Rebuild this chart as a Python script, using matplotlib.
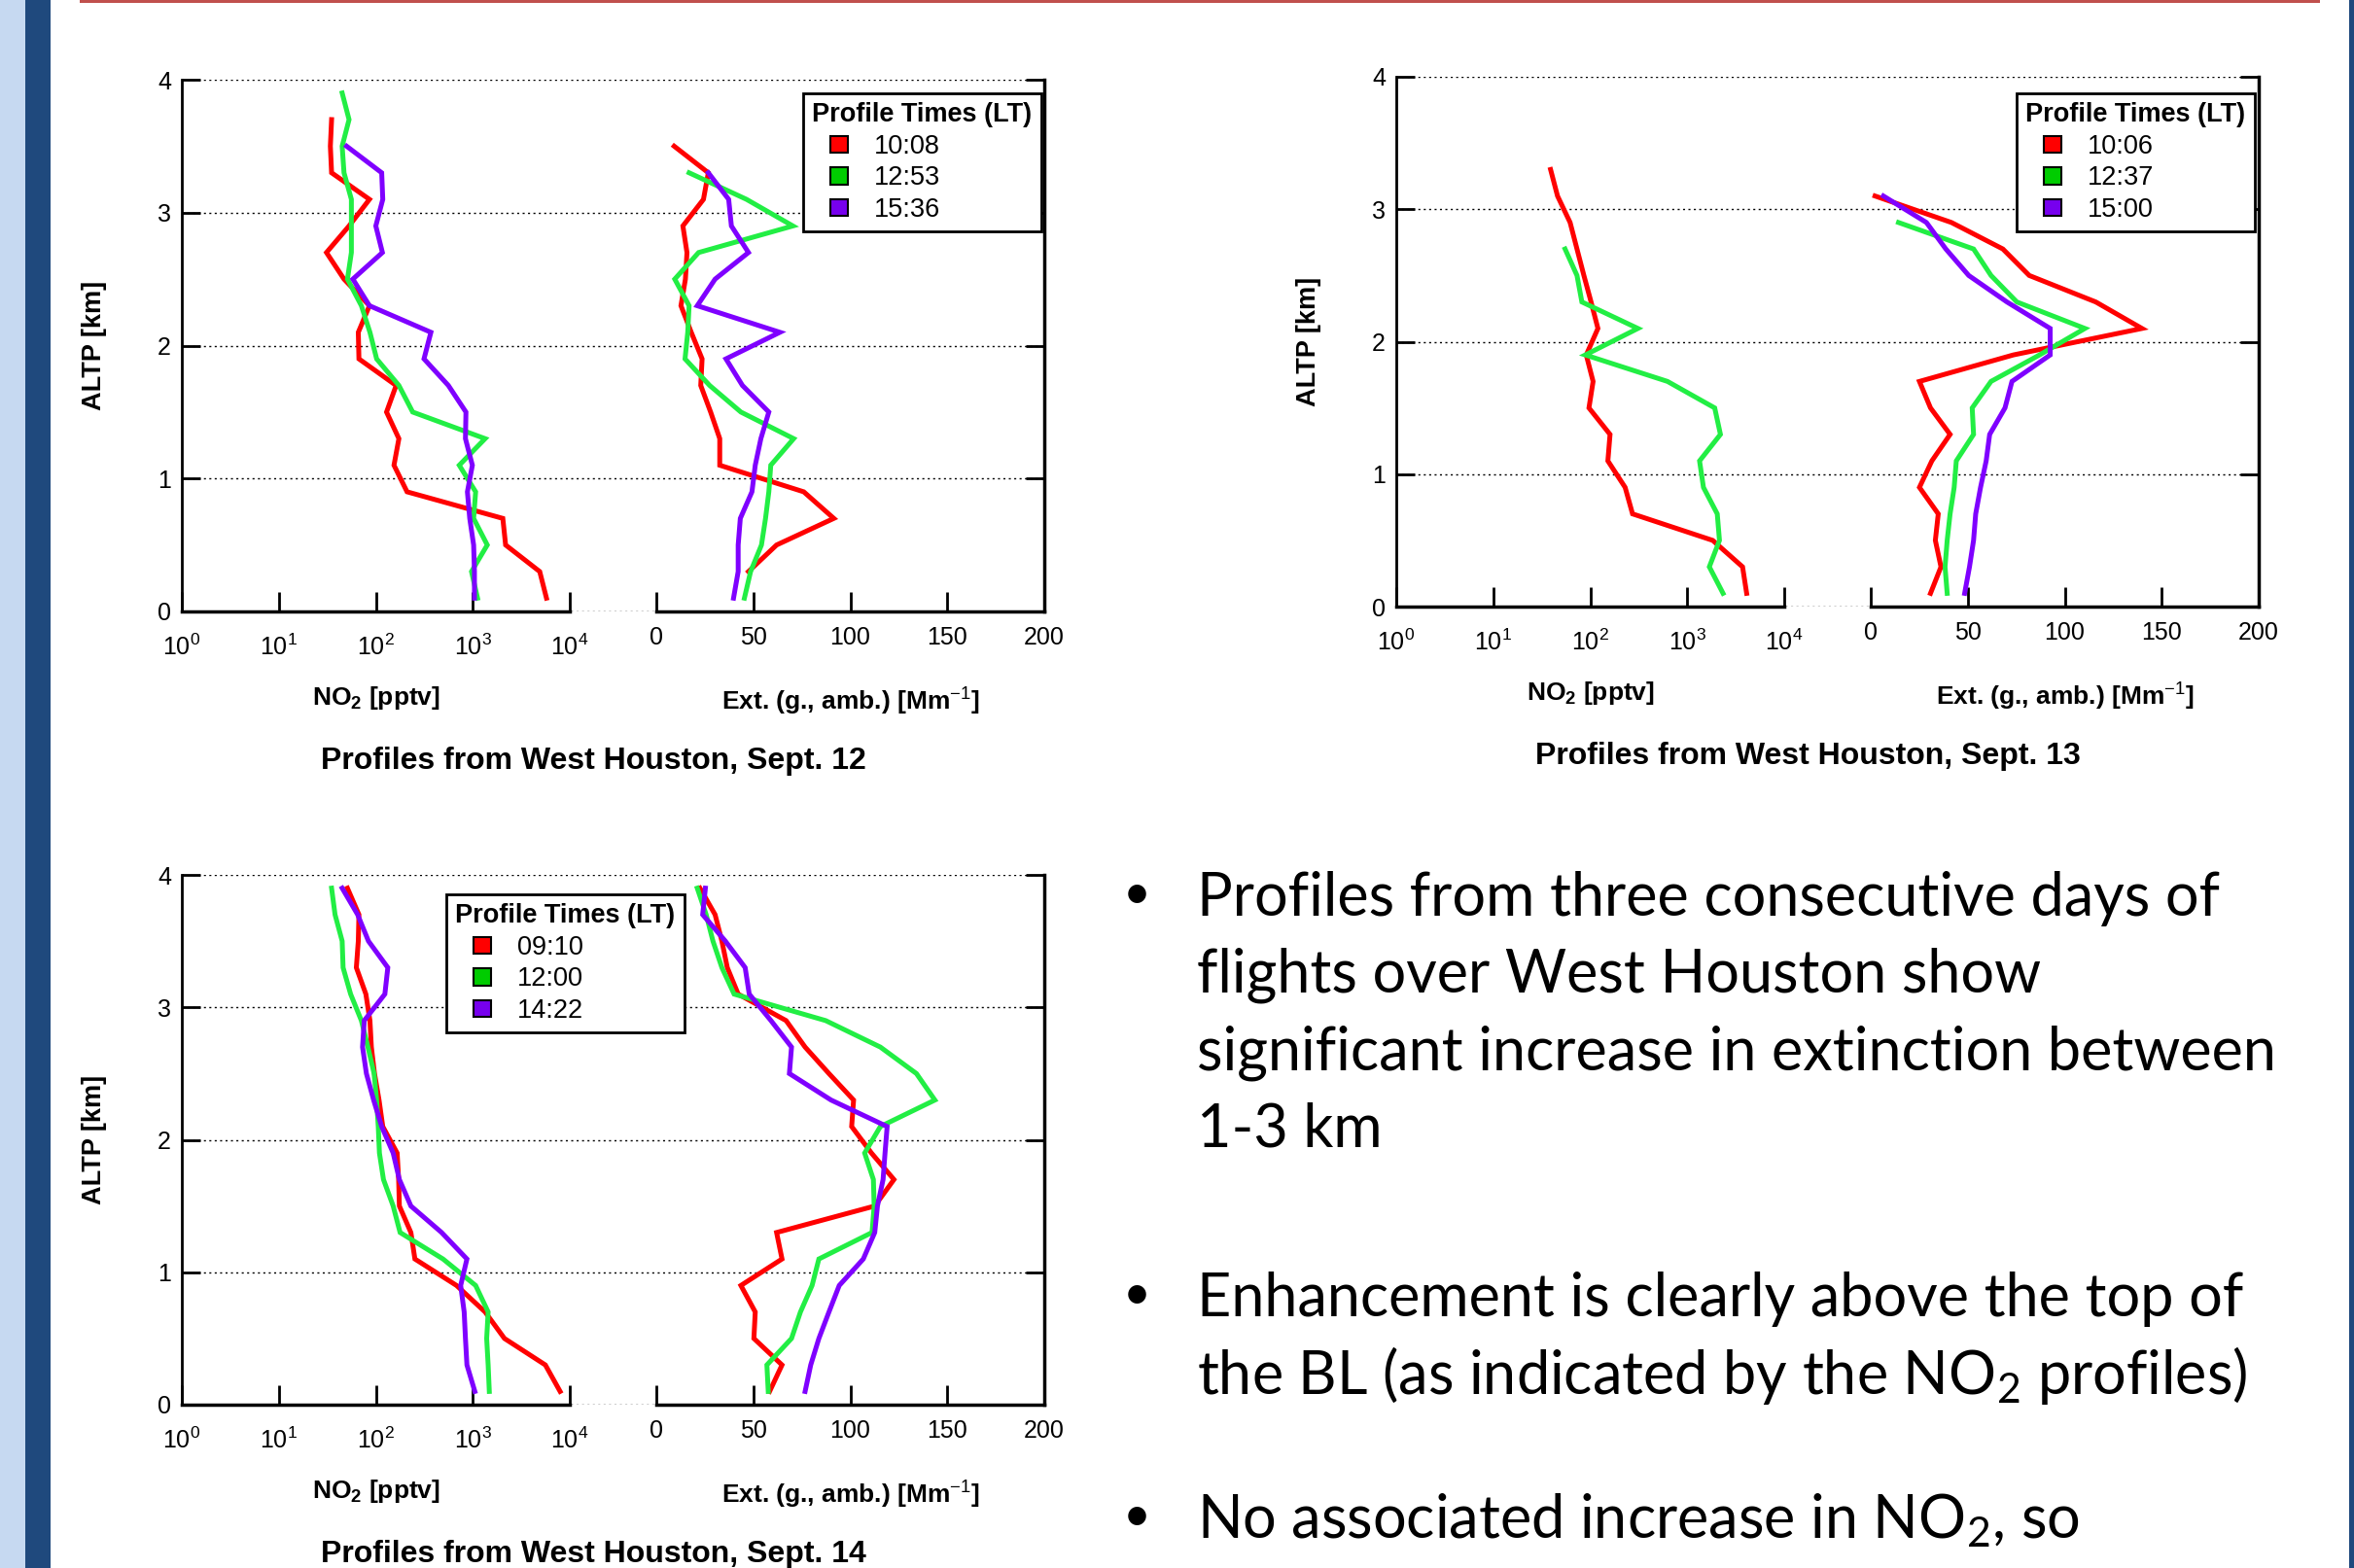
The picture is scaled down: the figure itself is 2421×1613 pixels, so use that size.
import numpy as np
import matplotlib
matplotlib.use('Agg')
import matplotlib.pyplot as plt
from matplotlib.patches import Patch, Rectangle
from matplotlib.legend_handler import HandlerPatch
from matplotlib.ticker import NullLocator

plt.rcParams['font.family'] = ['Liberation Sans', 'DejaVu Sans']
plt.rcParams['mathtext.fontset'] = 'custom'
plt.rcParams['mathtext.rm'] = 'Liberation Sans'
plt.rcParams['mathtext.bf'] = 'Liberation Sans:bold'
plt.rcParams['mathtext.sf'] = 'Lato'

nan = np.nan

# altitude levels of the profiles (km)
ALT = [0.1, 0.3, 0.5, 0.7, 0.9, 1.1, 1.3, 1.5, 1.7, 1.9,
       2.1, 2.3, 2.5, 2.7, 2.9, 3.1, 3.3, 3.5, 3.7, 3.9]

# Sept. 12
times_12 = ['10:08', '12:53', '15:36']
no2_12_a = [5750, 4900, 2180, 2040, 210, 154, 173, 129, 162, 67, 66, 86, 47, 31, 53, 86, 35, 34, 35]
no2_12_b = [1120, 970, 1410, 1020, 1070, 725, 1340, 240, 173, 102, 87, 71, 51, 56, 56, 56, 47, 45, 53, 45]
no2_12_c = [1040, 1040, 1020, 930, 880, 990, 840, 850, 560, 314, 370, 86, 58, 117, 100, 118, 115, 50]
ext_12_a = [nan, 47.5, 62, 91.5, 76, 32.7, 32.7, 28, 22.9, 23.6, 18, 12.7, 15, 15.8, 13.7, 24.3, 26.8, 9.2]
ext_12_b = [45.4, 48.6, 54.2, 56.3, 58, 59, 70.8, 43.6, 27.5, 14.8, 16.2, 16.9, 9.5, 21.8, 70.4, 46.5, 16.9]
ext_12_c = [39.8, 42.2, 42.2, 43.3, 49.3, 51, 53.9, 58, 44.4, 35.9, 63.7, 21.1, 30.3, 47.5, 38.7, 37.3, 26.8]

# Sept. 13
times_13 = ['10:06', '12:37', '15:00']
no2_13_a = [4100, 3720, 1830, 273, 229, 152, 160, 97, 107, 91, 120, 102, 86, 73, 62, 46, 39]
no2_13_b = [2340, 1690, 2150, 2040, 1470, 1340, 2200, 1920, 626, 89, 310, 82, 73, 55]
no2_13_c = []
ext_13_a = [30.8, 36.2, 33.3, 34.8, 25.1, 31.5, 40.9, 30.8, 25.1, 73.5, 139.8, 116, 81.7, 68.1, 41.6, 2.2]
ext_13_b = [39.4, 38.3, 39.4, 40.9, 43, 44.1, 53, 52.3, 62, 87, 110.4, 75.3, 62, 53, 14.3]
ext_13_c = [48.4, 50.9, 53, 54.1, 56.6, 59.5, 61.3, 69.2, 72.8, 92.5, 92.5, 70.2, 50.5, 38.7, 28.7, 6.5]

# Sept. 14
times_14 = ['09:10', '12:00', '14:22']
no2_14_a = [7950, 5600, 2120, 1340, 680, 253, 230, 175, 172, 166, 118, 108, 97, 90, 87, 79, 63, 66, 67, 51]
no2_14_b = [1480, 1440, 1390, 1440, 1070, 493, 178, 151, 120, 109, 106, 102, 96, 83, 71, 55, 46, 45, 38, 35]
no2_14_c = [1050, 870, 840, 815, 750, 870, 477, 230, 175, 151, 115, 95, 80, 73, 76, 124, 133, 84, 65, 45]
ext_14_a = [58.4, 64.8, 50.3, 51, 43.6, 64.8, 62, 112.6, 122.5, 110.9, 100.7, 101.7, 89, 76.7, 66.9, 42.2, 36.6, 33.8, 30.3, 22.5]
ext_14_b = [57.7, 57, 69.7, 74.3, 80.3, 83.8, 111.2, 112.3, 111.9, 107.4, 115.5, 143.6, 134.1, 115.5, 87.3, 40.1, 33.8, 29.2, 25.7, 21.1]
ext_14_c = [76.7, 79.6, 83.8, 89, 94.3, 106.7, 112.6, 114, 116.9, 117.9, 119, 90.1, 68.6, 69.7, 59.1, 47.9, 45.8, 35.6, 23.9, 25.3]

no2_ticks = [1, 10, 100, 1000, 10000]
no2_ticklabels = [r'$10^{0}$', r'$10^{1}$', r'$10^{2}$', r'$10^{3}$', r'$10^{4}$']
ext_ticks = [0, 50, 100, 150, 200]

line_colors = ['#FF0000', '#22EE44', '#7F00FF']
legend_colors = ['#FF0000', '#00CC00', '#7700EE']

bullet_lines = [
    'Profiles from three consecutive days of',
    'flights over West Houston show',
    'significant increase in extinction between',
    '1-3 km',
    'Enhancement is clearly above the top of',
    r'the BL (as indicated by the NO$_\mathsf{2}$ profiles)',
    r'No associated increase in NO$_\mathsf{2}$, so',
]
bullet_baselines = [942, 1021, 1100, 1179, 1354, 1434, 1582]
bullet_starts = [0, 4, 6]

W, H = 2421, 1613
fig = plt.figure(figsize=(W / 100, H / 100), dpi=100)


def box(x0, y0, x1, y1):
    return [x0 / W, 1 - y1 / H, (x1 - x0) / W, (y1 - y0) / H]


# legend square drawn at the right end of the handle box (entries indented under title)
def square(legend, orig_handle, xdescent, ydescent, width, height, fontsize):
    return Rectangle((-xdescent + width - height, -ydescent), height, height)


def panel(x0, top, bottom, no2_list, ext_list, times, title, leg_xy):
    x1 = x0 + 399   # end of NO2 axis
    x2 = x0 + 488   # start of extinction axis
    x3 = x0 + 887   # end of extinction axis

    # background frame with dotted grid
    bg = fig.add_axes(box(x0, top, x3, bottom))
    bg.set_xlim(0, 1)
    bg.set_ylim(0, 4)
    bg.set_xticks([])
    bg.set_yticks([0, 1, 2, 3, 4])
    bg.tick_params(axis='y', direction='in', length=14, width=2, left=True, right=True,
                   labelsize=18, pad=8)
    bg.grid(axis='y', linestyle=(0, (1.5, 2.5)), color='black', lw=1)
    bg.spines['top'].set_visible(False)
    bg.spines['bottom'].set_visible(False)
    bg.spines['left'].set_linewidth(2)
    bg.spines['right'].set_linewidth(2.5)

    # NO2 axis (log)
    a = fig.add_axes(box(x0, top, x1, bottom))
    a.patch.set_alpha(0)
    a.set_xscale('log')
    for c, v in zip(line_colors, no2_list):
        a.plot(v, ALT[:len(v)], color=c, lw=3.6, solid_joinstyle='miter')
    a.set_xlim(1, 1e4)
    a.set_ylim(0, 4)
    a.set_xticks(no2_ticks)
    a.set_xticklabels(no2_ticklabels)
    a.xaxis.set_minor_locator(NullLocator())
    a.set_yticks([])

    # extinction axis
    b = fig.add_axes(box(x2, top, x3, bottom))
    b.patch.set_alpha(0)
    for c, v in zip(line_colors, ext_list):
        b.plot(v, ALT[:len(v)], color=c, lw=3.6, solid_joinstyle='miter')
    b.set_xlim(0, 200)
    b.set_ylim(0, 4)
    b.set_xticks(ext_ticks)
    b.set_yticks([])

    for ax, pad in ((a, 17), (b, 11)):
        for s in ('top', 'left', 'right'):
            ax.spines[s].set_visible(False)
        ax.spines['bottom'].set_linewidth(2.5)
        ax.tick_params(axis='x', direction='in', length=14.4, width=2, labelsize=18, pad=pad)

    fig.text((x0 + x1) / 2 / W, 1 - (bottom + 89) / H, r'NO$_\mathbf{2}$ [pptv]',
             ha='center', va='center', fontsize=19, fontweight='bold')
    fig.text((x2 + x3) / 2 / W, 1 - (bottom + 92) / H, r'Ext. (g., amb.) [Mm$^{-1}$]',
             ha='center', va='center', fontsize=19, fontweight='bold')
    fig.text((x0 + 423) / W, 1 - (bottom + 154) / H, title,
             ha='center', va='center', fontsize=23, fontweight='bold')
    fig.text((x0 - 90) / W, 1 - (top + bottom) / 2 / H, 'ALTP [km]', rotation=90,
             ha='center', va='center', fontsize=19.5, fontweight='bold')

    handles = [Patch(facecolor=c, edgecolor='black', lw=1.5) for c in legend_colors]
    leg = b.legend(handles, times, title='Profile Times (LT)',
                   title_fontproperties={'weight': 'bold', 'size': 19.5}, fontsize=19.5,
                   loc='upper left', bbox_to_anchor=(leg_xy[0] / W, 1 - leg_xy[1] / H),
                   bbox_transform=fig.transFigure, fancybox=False, framealpha=1,
                   edgecolor='black', borderpad=0.35, handlelength=1.35, handleheight=0.63,
                   handletextpad=1.0, labelspacing=0.24, borderaxespad=0, alignment='left',
                   handler_map={Patch: HandlerPatch(patch_func=square)})
    leg.get_frame().set_linewidth(2)


panel(187, 82, 629, [no2_12_a, no2_12_b, no2_12_c], [ext_12_a, ext_12_b, ext_12_c],
      times_12, 'Profiles from West Houston, Sept. 12', (826, 96))
panel(1436, 79, 624, [no2_13_a, no2_13_b, no2_13_c], [ext_13_a, ext_13_b, ext_13_c],
      times_13, 'Profiles from West Houston, Sept. 13', (2074, 96))
panel(187, 900, 1445, [no2_14_a, no2_14_b, no2_14_c], [ext_14_a, ext_14_b, ext_14_c],
      times_14, 'Profiles from West Houston, Sept. 14', (459, 920))

# bullet text
for i, (txt, yb) in enumerate(zip(bullet_lines, bullet_baselines)):
    if i in bullet_starts:
        fig.text(1169 / W, 1 - (yb - 7) / H, '\u2022', ha='center', va='baseline',
                 fontsize=36, family=['Lato', 'DejaVu Sans'])
    fig.text(1231 / W, 1 - yb / H, txt, ha='left', va='baseline',
             fontsize=44, family=['Lato', 'DejaVu Sans'])

# slide decoration
fig.add_artist(Rectangle((0, 0), 26 / W, 1, transform=fig.transFigure, color='#C6D9F1', lw=0))
fig.add_artist(Rectangle((26 / W, 0), 26 / W, 1, transform=fig.transFigure, color='#1F497D', lw=0))
fig.add_artist(Rectangle((2416 / W, 0), 5 / W, 1, transform=fig.transFigure, color='#1F497D', lw=0))
fig.add_artist(Rectangle((82 / W, 1 - 3 / H), (2386 - 82) / W, 3 / H, transform=fig.transFigure,
                         color='#C0504D', lw=0))

fig.savefig('out.png', dpi=100)
